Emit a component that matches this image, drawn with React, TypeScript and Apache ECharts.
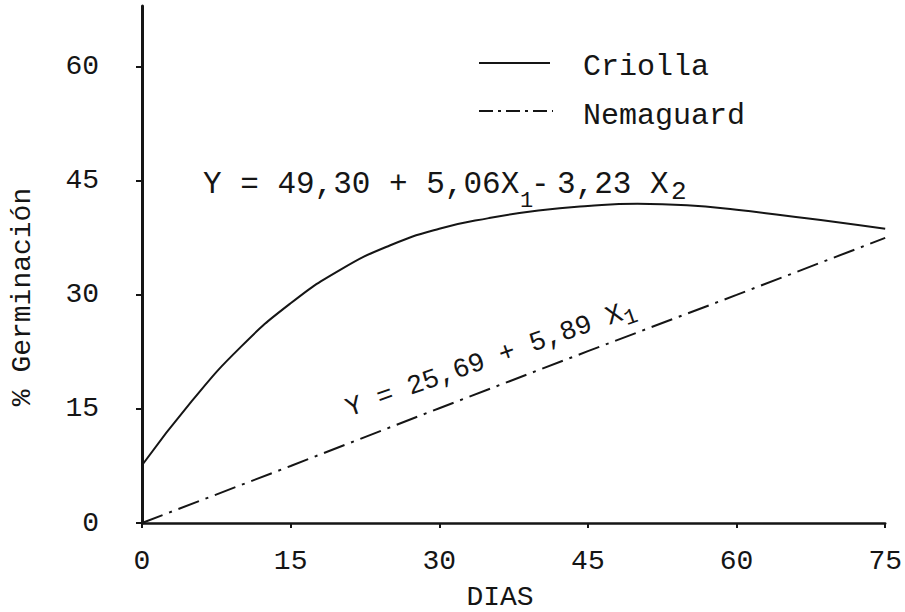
import React, { useEffect, useRef } from "react";
import * as echarts from "echarts";

const days = [0, 5, 10, 15, 20, 25, 30, 35, 40, 45, 50, 55, 60, 65, 70, 75];
const criolla = [7.6, 16.0, 23.2, 28.9, 33.3, 36.5, 38.7, 40.1, 41.1, 41.7, 42.0, 41.8, 41.2, 40.4, 39.6, 38.7];
const nemaguardDays = [0, 15, 30, 45, 60, 75];
const nemaguard = [0, 7.5, 15.1, 22.6, 30.0, 37.5];
const yTicks = [0, 15, 30, 45, 60];
const xTicks = [0, 15, 30, 45, 60, 75];

const MONO = "'Liberation Mono', 'DejaVu Sans Mono', monospace";
const INK = "#151515";
const DASHDOT = [22, 7, 3, 7];

export default function App() {
  const ref = useRef<HTMLDivElement>(null);
  useEffect(() => {
    if (!ref.current) return;
    const chart = echarts.init(ref.current, undefined, { renderer: "svg" });
    const txt = (text: string, x: number, y: number, size: number, extra: any = {}) => ({
      type: "text",
      x,
      y,
      style: {
        text,
        fill: INK,
        fontSize: size,
        fontFamily: MONO,
        align: "left",
        verticalAlign: "middle",
        textAlign: "left",
        textVerticalAlign: "middle",
        ...extra,
      },
    });
    chart.setOption({
      animation: false,
      backgroundColor: "#ffffff",
      grid: { left: 142, right: 13, top: 6, bottom: 89, containLabel: false },
      xAxis: {
        type: "value",
        min: 0,
        max: 75,
        interval: 15,
        splitLine: { show: false },
        axisLine: { show: true, onZero: false, lineStyle: { color: INK, width: 2.5 } },
        axisTick: { show: true, inside: false, length: 5, lineStyle: { color: INK, width: 2 }, customValues: xTicks },
        axisLabel: { color: INK, fontFamily: MONO, fontSize: 28, margin: 24, customValues: xTicks },
      },
      yAxis: {
        type: "value",
        min: 0,
        max: 68,
        interval: 15,
        splitLine: { show: false },
        axisLine: { show: true, onZero: false, lineStyle: { color: INK, width: 3 } },
        axisTick: { show: true, inside: false, length: 6, lineStyle: { color: INK, width: 2 }, customValues: yTicks },
        axisLabel: { color: INK, fontFamily: MONO, fontSize: 28, margin: 43, customValues: yTicks },
      },
      series: [
        {
          name: "Criolla",
          type: "line",
          smooth: true,
          showSymbol: false,
          data: days.map((d, i) => [d, criolla[i]]),
          lineStyle: { color: INK, width: 2, type: "solid" },
        },
        {
          name: "Nemaguard",
          type: "line",
          showSymbol: false,
          data: nemaguardDays.map((d, i) => [d, nemaguard[i]]),
          lineStyle: { color: INK, width: 2, type: DASHDOT },
        },
      ],
      graphic: [
        // legend
        { type: "line", shape: { x1: 479, y1: 63, x2: 550, y2: 63 }, style: { stroke: INK, lineWidth: 2 } },
        txt("Criolla", 583, 67, 30),
        { type: "line", shape: { x1: 479, y1: 111, x2: 553, y2: 111 }, style: { stroke: INK, lineWidth: 2, lineDash: [14, 5, 3, 5] } },
        txt("Nemaguard", 583, 116, 30),
        // equation 1
        {
          type: "group",
          x: 203,
          y: 184,
          children: [
            txt("Y = 49,30 + 5,06X", 0, 0, 31),
            txt("1", 317, 17, 22),
            txt("-", 328, 0, 31),
            txt("3,23 X", 354, 0, 31),
            txt("2", 468, 8, 26),
          ],
        },
        // equation 2 (rotated along the line)
        {
          type: "group",
          x: 347,
          y: 410,
          rotation: 0.34,
          children: [txt("Y = 25,69 + 5,89 X", 0, 0, 27), txt("1", 292, 8, 22)],
        },
        // axis titles
        txt("DIAS", 500, 597, 28, { align: "center", textAlign: "center" }),
        {
          type: "text",
          x: 22,
          y: 297,
          rotation: Math.PI / 2,
          style: {
            text: "% Germinación",
            fill: INK,
            fontSize: 28,
            fontFamily: MONO,
            align: "center",
            verticalAlign: "middle",
            textAlign: "center",
            textVerticalAlign: "middle",
          },
        },
      ],
    });
    return () => chart.dispose();
  }, []);
  return <div ref={ref} style={{ width: 905, height: 612, position: "absolute", left: 0, top: 0 }} />;
}
